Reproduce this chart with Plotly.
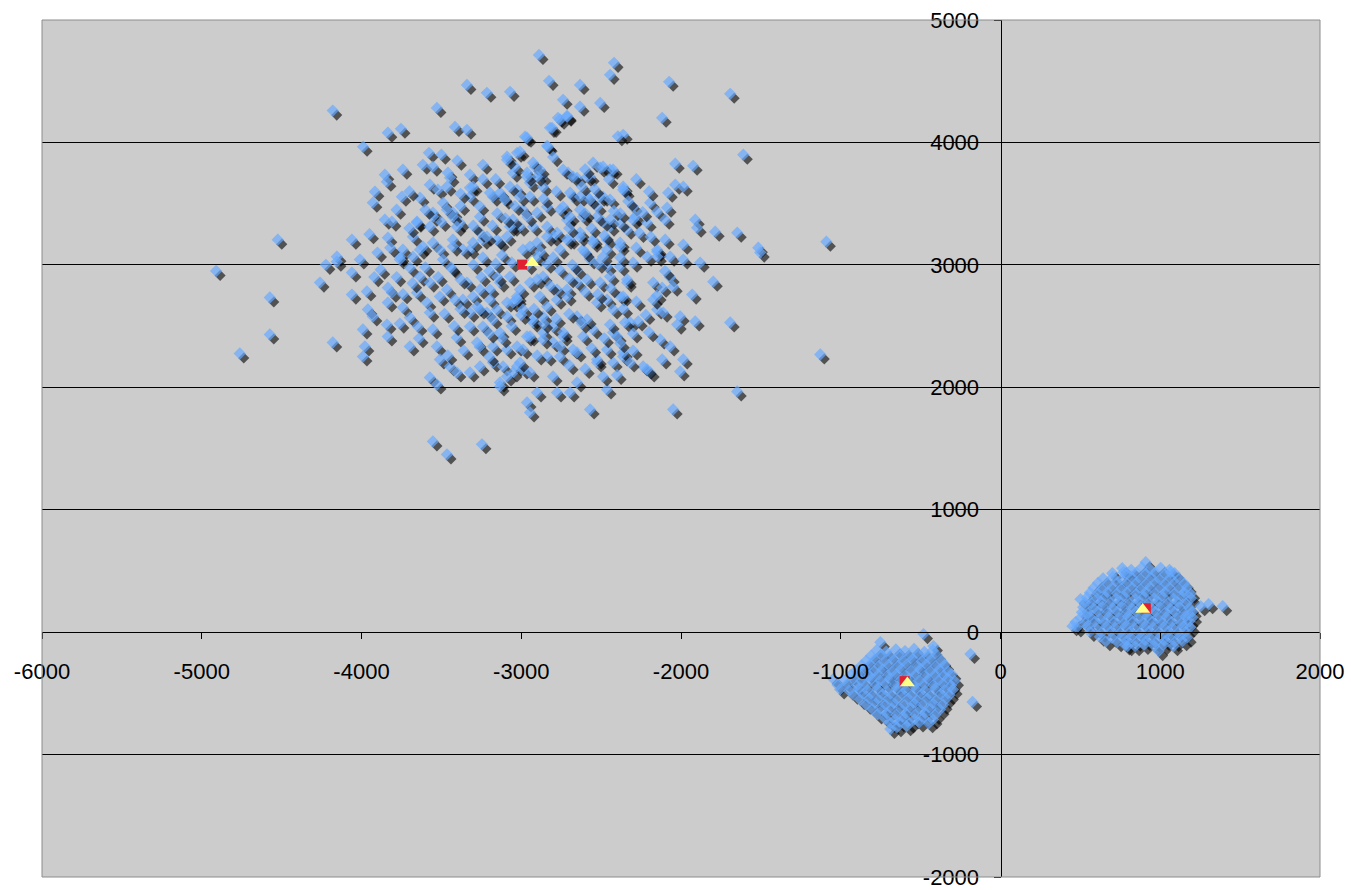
import plotly.graph_objects as go

# ---------------- data ----------------
main_pts = [
    (-4180,4260),(-4910,2950),(-4762,2276),(-4524,3206),(-4574,2733),(-4574,2431),(-4180,2366),(-4260,2855),(-4223,3000),
    (-3990,3965),(-3835,4079),(-3753,4111),(-3528,4282),(-3415,4127),(-3340,4103),(-3340,4470),(-3215,4405),(-3070,4413),
    (-3578,3915),(-3616,3817),(-3553,3801),(-3741,3777),(-3854,3736),(-3841,3679),(-3459,3752),(-3446,3711),(-3321,3736),(-3240,3817),
    (-3916,3597),(-3929,3508),(-3747,3556),(-3572,3654),(-3522,3614),(-3634,3548),(-3490,3508),(-3321,3630),(-3428,3426),(-3553,3426),
    (-3653,3353),(-3854,3369),(-3810,3353),(-3384,3344),(-3258,3393),(-3196,3589),(-3114,3556),(-3089,3883),(-3052,3752),
    (-4060,3206),(-3835,3222),(-3678,3230),(-3553,3181),(-3428,3206),(-3240,3206),(-3133,3181),(-3052,3312),
    (-3741,3124),(-3634,3124),(-3509,3124),(-3321,3124),(-4154,3067),
    (-2889,4715),(-2419,4650),(-2444,4552),(-2826,4503),(-2632,4470),(-2074,4495),(-1692,4397),
    (-2738,4348),(-2632,4291),(-2506,4323),(-2770,4201),(-2713,4217),(-2820,4119),(-2118,4201),(-2362,4062),(-2395,4050),(-2976,4046),
    (-2838,3972),(-1610,3899),(-2036,3826),(-1924,3809),(-2550,3834),(-2506,3793),(-2444,3777),(-2707,3752),(-2651,3711),(-2569,3720),
    (-2362,3638),(-2350,3597),(-2036,3654),(-1986,3638),(-2080,3589),(-2193,3508),(-2149,3434),(-2087,3467),(-2300,3475),(-2287,3393),
    (-2099,3369),(-1911,3369),(-1899,3304),(-1786,3271),(-1648,3263),(-1516,3140),(-1090,3189),(-2099,3206),(-1986,3165),(-2149,3108),
    (-2444,3312),(-2337,3287),(-2676,3556),(-2588,3556),(-2488,3556),(-2738,3475),(-2525,3475),(-2713,3369),(-2613,3393),(-2488,3353),
    (-2632,3263),(-2550,3206),(-2463,3206),(-2381,3181),
    (-3026,3915),(-3039,3801),(-2964,3752),(-2914,3801),(-2870,3720),(-2945,3671),(-2864,3638),(-3026,3614),(-2945,3556),(-2989,3451),
    (-2901,3426),(-2838,3475),(-3008,3312),(-2926,3312),(-2838,3312),(-2801,3230),(-2694,3206),(-2901,3181),(-2989,3124),(-2757,3124),(-2613,3124),
    (-2964,4038),(-2832,3964),(-2807,4119),(-2757,4185),(-2713,4209),(-3089,3858),(-3008,3924),(-2926,3834),(-2882,3777),(-2901,3720),
    (-2964,3720),(-3070,3638),(-3133,3589),(-3177,3556),(-3102,3532),(-3302,3638),(-3321,3556),(-3465,3638),(-3465,3451),(-3428,3393),
    (-3403,3312),(-3553,3393),(-3653,3344),(-3572,3312),(-3008,3556),(-3052,3369),(-3070,3312),(-3089,3230),(-3152,3206),(-3258,3263),
    (-3215,3230),(-3302,3181),(-3365,3124),(-3428,3149),(-3616,3149),(-3678,3067),(-3760,3067),
    (-2738,3777),(-2676,3720),(-2588,3720),(-2488,3801),(-2425,3777),
    (-2694,3589),(-2632,3556),(-2569,3532),(-2506,3556),(-2444,3532),(-2362,3614),
    (-2757,3451),(-2694,3393),(-2632,3451),(-2525,3393),(-2444,3369),(-2381,3344),(-2300,3369),(-2212,3344),
    (-2838,3230),(-2776,3263),(-2713,3206),(-2632,3230),(-2550,3181),(-2463,3124),(-2381,3149),(-2300,3018),(-2212,3067),(-2149,3124),
    (-2945,3149),(-2901,3067),
    (-4154,3026),(-4060,2937),(-4010,3043),(-4060,2757),(-3966,2782),(-3960,2635),(-3929,2578),(-3991,2472),(-3979,2333),(-3991,2251),
    (-3841,2512),(-3835,2415),(-3835,2814),(-3810,2773),(-3835,2692),(-3741,2651),(-3697,2570),(-3647,2496),(-3697,2333),(-3760,3043),
    (-3697,2977),(-3634,2904),(-3572,2855),(-3653,2773),(-3591,2692),(-3572,2610),(-3553,2472),(-3528,2333),(-3509,2227),(-3446,2170),
    (-3403,2121),(-3572,2080),(-3528,2023),(-3403,2406),(-3490,3043),(-3428,2961),(-3465,2798),(-3509,2741),(-3340,2855),(-3302,2741),
    (-3277,2659),(-3215,2610),(-3177,2553),(-3321,2496),(-3277,2366),(-3321,2121),(-3258,2170),(-3177,2202),(-3114,2170),(-3133,2039),
    (-3196,2798),(-3133,2855),(-3070,2904),(-3026,2741),(-3089,2692),(-3133,2447),(-3089,2308),(-3052,2121),(-3553,1558),(-3465,1452),(-3246,1534),
    (-2964,1876),(-2945,1795),(-2901,1958),(-2801,2088),(-2776,1958),(-2694,1958),(-2651,2039),(-2569,1819),(-2463,1982),(-2525,2202),
    (-2425,2202),(-2362,2251),(-2237,2170),(-2193,2121),(-3133,2007),(-3089,2088),(-3026,2170),(-2989,2145),
    (-3258,2798),(-3196,2716),(-3152,2635),(-3089,2578),(-3052,2692),(-3008,2798),(-2945,2855),(-2882,2741),(-2838,2659),(-2776,2716),
    (-2713,2798),(-2651,2855),(-2588,2880),(-2525,2692),(-2463,2716),(-2425,2635),(-2381,2741),(-2337,2855),(-2174,2855),(-2149,2635),
    (-2318,2529),(-2425,2447),(-2550,2472),(-2613,2415),(-2676,2308),(-2738,2415),(-2801,2366),(-2864,2447),(-2926,2529),(-2964,2415),
    (-3026,2333),(-3177,2333),(-3240,2496),(-3258,2635),(-3321,2610),(-3365,2716),
    (-2068,2896),(-2049,2822),(-2118,2814),(-1880,3018),(-1798,2863),(-1930,2757),(-2174,2716),(-2112,2610),(-2005,2578),(-2024,2512),
    (-1911,2537),(-1692,2529),(-1128,2268),(-2130,2390),(-2068,2333),(-2118,2227),(-1986,2227),(-2005,2129),(-2212,2145),(-1648,1966),
    (-2049,1819),(-2268,2537),(-2350,2529),(-2444,2512),(-2400,2415),(-2463,2308),(-2362,2284),(-2318,2202),(-2525,2227),(-2488,2088),
    (-2362,2741),(-2337,2880),(-2381,2986),(-2463,2986),(-2149,3067),(-2068,3067),(-1986,3043),(-1504,3100),
    (-2864,2904),(-2776,2798),(-2713,2741),(-2651,2961),(-2569,3043),(-2488,3067),(-2506,2855),(-2444,2904),(-3026,2716),(-2989,2635),
    (-2926,2553),(-2864,2578),(-2801,2496),(-2738,2447),(-2651,2578),(-2588,2553),(-2945,2415),(-2864,2390),(-2757,2333),(-2651,2284),
    (-2989,2308),(-2838,2251),(-2757,2251),(-3008,2202),(-2945,2121),
    (-3300,3000),(-3200,2950),(-3120,3080),(-3380,2880),(-3250,2900),(-3150,2900),(-3415,2716),
    (-3380,3580),(-3260,3480),(-3150,3420),(-3040,3480),(-2960,3390),(-2860,3540),(-2780,3600),(-2620,3640),(-2540,3620),(-2420,3440),
    (-2330,3520),(-2260,3260),(-2190,3230),(-2280,3140),(-2380,3060),(-2520,3010),(-2600,3100),(-2680,3000),(-2760,2960),(-2840,3010),
    (-2900,2880),(-2820,2830),(-2700,2890),(-2600,2780),(-2520,2760),(-2440,2810),(-2360,2640),(-2280,2700),(-2220,2590),(-2300,2440),
    (-2380,2360),(-2480,2400),(-2560,2320),(-2620,2520),(-2700,2600),(-2780,2560),(-2860,2520),(-2920,2640),(-3000,2590),(-3060,2500),
    (-3120,2400),(-3200,2440),(-3260,2330),(-3360,2300),(-3420,2500),(-3480,2600),(-3380,2640),(-3440,2980),(-3520,2900),(-3600,2980),
    (-3680,2850),(-3740,2760),(-3780,2900),(-3880,2960),(-3900,3100),(-3820,3140),(-3700,3300),(-3600,3450),(-3500,3350),(-3380,3480),
    (-3300,3320),(-3180,3320),(-3100,3380),(-3240,3060),(-3160,3010),(-3060,3020),(-2960,3000),(-2880,3110),(-2800,3060),(-2700,3300),
    (-2560,3300),(-2480,3240),(-2600,3420),(-2380,3420),(-2240,3430),(-2200,3600),(-2280,3700),(-2450,3700),(-2600,3780),(-2800,3880),
    (-3160,3700),(-3240,3700),(-3400,3850),(-3500,3900),(-3700,3600),(-3780,3450),(-3950,3250),(-3920,2900),(-3760,2520),(-3640,2400),
    (-3460,2260),(-3200,2250),(-2900,2260),(-2700,2180),(-2600,2150),(-2400,2100),(-2300,2300),(-2200,2450),(-2150,2750),(-2100,2950),
]

c1_pts = [
    (-752,-82),(-482,-16),(-188,-179),(-175,-571),(-1046,-383),(-689,-791),(-420,-114),
    (-775,-148),(-716,-160),(-655,-142),(-598,-155),(-541,-137),(-477,-162),(-424,-150),
    (-810,-192),(-745,-185),(-690,-196),(-630,-188),(-570,-194),(-515,-183),(-455,-197),(-400,-186),
    (-842,-236),(-786,-222),(-731,-241),(-668,-228),(-612,-236),(-548,-219),(-493,-240),(-433,-226),(-368,-238),
    (-870,-272),(-815,-265),(-760,-276),(-700,-268),(-640,-274),(-585,-263),(-520,-277),(-465,-266),(-405,-275),(-350,-268),
    (-903,-312),(-847,-300),(-791,-318),(-738,-306),(-679,-322),(-622,-304),(-561,-317),(-502,-301),(-441,-320),(-382,-306),(-329,-318),
    (-940,-352),(-880,-345),(-820,-356),(-765,-348),(-705,-354),(-650,-343),(-590,-357),(-530,-346),(-470,-355),(-410,-347),(-355,-353),(-305,-344),
    (-982,-392),(-918,-380),(-872,-398),(-808,-384),(-752,-396),(-693,-383),(-628,-395),(-572,-381),(-511,-397),(-452,-384),(-388,-393),(-331,-380),(-288,-398),
    (-1020,-432),(-960,-425),(-900,-436),(-840,-428),(-780,-434),(-720,-423),(-660,-437),(-600,-426),(-540,-435),(-480,-427),(-420,-433),(-360,-424),(-310,-436),
    (-1004,-468),(-948,-478),(-887,-462),(-833,-475),(-769,-465),(-711,-480),(-648,-463),(-591,-477),(-528,-466),(-472,-479),(-409,-462),(-351,-476),(-297,-468),
    (-920,-512),(-860,-505),(-800,-516),(-740,-508),(-680,-514),(-615,-503),(-555,-517),(-495,-506),(-435,-515),(-375,-507),(-320,-513),
    (-878,-553),(-822,-541),(-758,-557),(-703,-546),(-641,-558),(-578,-542),(-523,-556),(-458,-544),(-402,-557),(-341,-545),
    (-840,-592),(-780,-585),(-720,-596),(-660,-588),(-600,-594),(-540,-583),(-480,-597),(-420,-586),(-360,-593),
    (-803,-628),(-741,-637),(-682,-624),(-618,-635),(-562,-622),(-501,-636),(-438,-626),(-379,-633),
    (-770,-672),(-710,-665),(-650,-676),(-590,-668),(-530,-674),(-470,-663),(-410,-677),
    (-722,-707),(-661,-716),(-603,-703),(-539,-712),(-482,-701),(-423,-714),
    (-690,-742),(-630,-735),(-570,-746),(-510,-738),(-450,-744),
    (-648,-776),(-588,-768),
]

c2_pts = [
    (451,49),(501,269),(909,571),(771,489),(1065,489),(990,-155),(796,-114),(1253,212),(1303,228),(1391,212),
    (762,522),(818,508),(884,527),(938,512),(1003,524),(1058,509),
    (700,482),(790,475),(850,486),(910,478),(970,484),(1030,473),(1090,481),
    (642,438),(703,449),(758,432),(821,446),(877,434),(942,447),(998,431),(1063,444),(1118,436),
    (610,402),(670,395),(730,406),(790,398),(850,404),(910,393),(970,407),(1030,396),(1090,405),(1150,397),
    (583,362),(638,351),(702,366),(757,353),(823,364),(878,350),(937,367),(1004,355),(1058,362),(1123,351),(1168,364),
    (560,322),(610,315),(670,326),(730,318),(790,324),(850,313),(910,327),(970,316),(1030,325),(1090,317),(1150,323),(1190,314),
    (542,283),(603,274),(657,288),(723,276),(778,285),(843,272),(898,287),(962,276),(1018,284),(1083,273),(1138,286),(1192,277),
    (530,242),(570,235),(630,246),(690,238),(750,244),(810,233),(870,247),(930,236),(990,245),(1050,237),(1110,243),(1160,234),
    (518,203),(583,194),(637,208),(702,196),(758,205),(822,193),(878,207),(943,195),(998,204),(1062,192),(1118,206),(1183,197),
    (510,162),(550,155),(610,166),(670,158),(730,164),(790,153),(850,167),(910,156),(970,165),(1030,157),(1090,163),(1150,154),(1200,166),
    (502,118),(558,127),(623,113),(678,124),(743,116),(798,128),(863,114),(918,126),(983,117),(1038,123),(1103,115),(1158,127),(1202,119),
    (470,82),(530,75),(590,86),(650,78),(710,84),(770,73),(830,87),(890,76),(950,85),(1010,77),(1070,83),(1130,74),(1180,86),
    (478,38),(543,46),(598,33),(663,44),(718,36),(783,47),(838,32),(903,45),(958,37),(1023,43),(1078,34),(1143,46),(1188,39),
    (560,2),(630,-5),(690,6),(750,-2),(810,4),(870,-7),(930,7),(990,-4),(1050,5),(1110,-3),(1160,3),
    (622,-38),(698,-46),(763,-35),(818,-44),(883,-37),(938,-47),(1003,-36),(1058,-43),(1123,-34),(1168,-45),
    (660,-75),(730,-82),(790,-71),(850,-79),(910,-73),(970,-84),(1030,-72),(1090,-80),(1140,-74),
    (782,-108),(843,-116),(898,-104),(963,-113),(1018,-106),(1083,-115),
]

centroid_x = [-2995, -600, 910]
centroid_y = [3002, -400, 195]
mean_x = [-2932, -583, 890]
mean_y = [3018, -416, 185]

x_ticks = [-6000, -5000, -4000, -3000, -2000, -1000, 0, 1000, 2000]
y_ticks = [-2000, -1000, 0, 1000, 2000, 3000, 4000, 5000]

# ---------------- layout constants ----------------
W, H = 1351, 890
ML, MR, MT, MB = 42, 31, 20, 13
XR = [-6000, 2000]
YR = [-2000, 5000]
plot_w = W - ML - MR
plot_h = H - MT - MB
ux = (XR[1] - XR[0]) / plot_w   # data units per pixel
uy = (YR[1] - YR[0]) / plot_h
sdx, sdy = 4 * ux, -4.5 * uy     # drop-shadow offset


def draw_order(pts):
    # draw dense blobs from top-left to bottom-right (screen order)
    return sorted(pts, key=lambda p: p[0] / ux - p[1] / uy)


all_pts = main_pts + draw_order(c1_pts) + draw_order(c2_pts)

# interleave shadow + point so that each point's shadow is drawn just before it
ix, iy, cols, sizes = [], [], [], []
for x, y in all_pts:
    ix += [x + sdx, x]
    iy += [y + sdy, y]
    cols += ["rgba(0,0,0,0.85)", "#66AAFF"]
    sizes += [8.5, 9.5]

fig = go.Figure()
fig.add_trace(go.Scatter(
    x=ix, y=iy, mode="markers",
    marker=dict(symbol="diamond", size=sizes, color=cols, line=dict(width=0)),
    hoverinfo="skip", showlegend=False,
))
fig.add_trace(go.Scatter(
    x=centroid_x, y=centroid_y, mode="markers",
    marker=dict(symbol="square", size=10, color="#E02030", line=dict(width=0)),
    showlegend=False,
))
fig.add_trace(go.Scatter(
    x=mean_x, y=mean_y, mode="markers",
    marker=dict(symbol="triangle-up", size=13, color="#FFFF88", line=dict(width=0)),
    showlegend=False,
))

font = dict(family="Liberation Sans, Arial, sans-serif", size=22, color="black")

fig.update_layout(
    width=W, height=H,
    margin=dict(l=ML, r=MR, t=MT, b=MB, pad=0),
    paper_bgcolor="white",
    plot_bgcolor="#CCCCCC",
    showlegend=False,
    font=font,
    xaxis=dict(
        range=XR, tickvals=x_ticks, ticktext=[str(v) for v in x_ticks],
        showgrid=False, zeroline=False,
        showline=True, linecolor="black", linewidth=1,
        anchor="free", position=(0 - YR[0]) / (YR[1] - YR[0]),
        ticks="outside", ticklen=6, tickcolor="black", tickwidth=1,
        ticklabelstandoff=13,
        tickfont=font, automargin=False, fixedrange=True,
    ),
    yaxis=dict(
        range=YR, tickvals=y_ticks, ticktext=[str(v) for v in y_ticks],
        showgrid=True, gridcolor="black", gridwidth=1,
        zeroline=False,
        showline=True, linecolor="black", linewidth=1,
        anchor="free", position=(0 - XR[0]) / (XR[1] - XR[0]),
        ticks="outside", ticklen=7, tickcolor="black", tickwidth=1,
        ticklabelstandoff=10,
        tickfont=font, automargin=False, fixedrange=True,
    ),
    shapes=[dict(type="rect", xref="paper", yref="paper", x0=0, y0=0, x1=1, y1=1,
                 line=dict(color="#8C8C8C", width=1), fillcolor="rgba(0,0,0,0)", layer="above")],
)

fig.write_html(
    "out.html",
    config={"displayModeBar": False, "staticPlot": True},
    post_script="document.body.style.margin='0px';document.body.style.overflow='hidden';",
)
